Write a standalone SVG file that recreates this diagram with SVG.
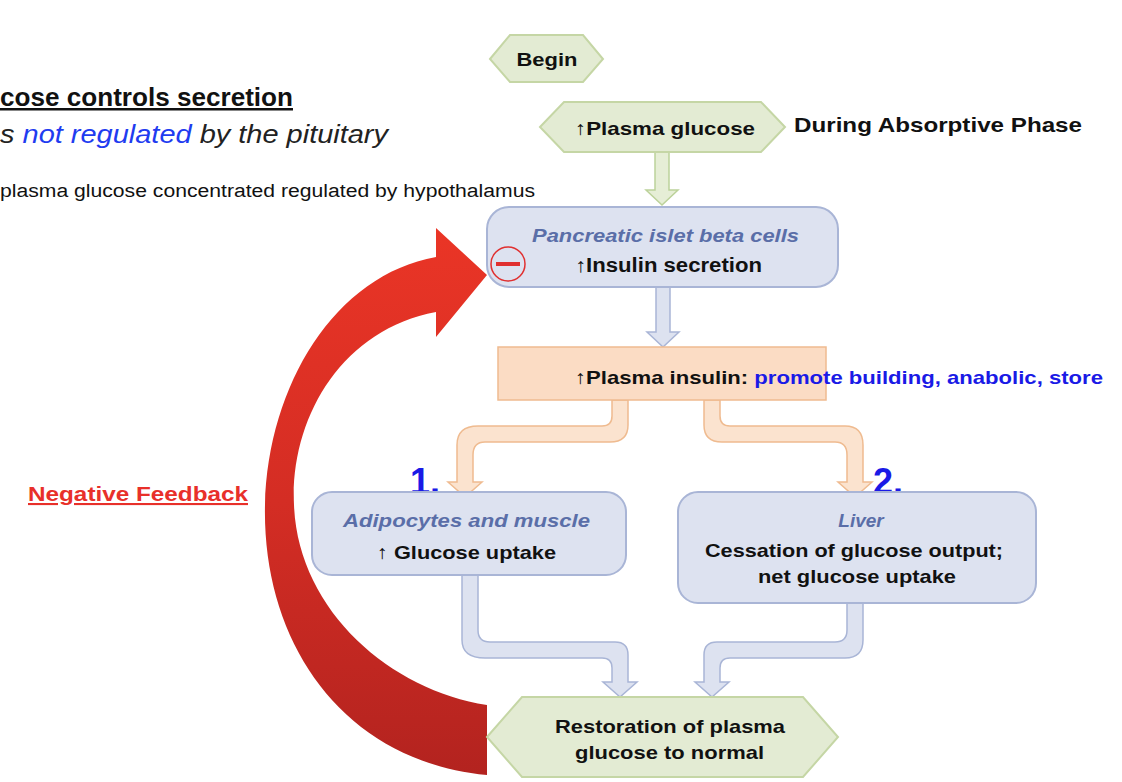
<svg xmlns="http://www.w3.org/2000/svg" width="1122" height="782" viewBox="0 0 1122 782">
<style>
text{font-family:"Liberation Sans",Arial,sans-serif}
.b{font-weight:bold;fill:#111}
.hex{fill:#e3ebd3;stroke:#c5d6a5;stroke-width:2}
.box{fill:#dde2f0;stroke:#a9b5d6;stroke-width:2}
.it{font-style:italic;font-weight:bold;fill:#5a6ea8}
.ga{fill:#e6eed6;stroke:#bcd29a;stroke-width:1.5}
.ba{fill:#dde2f0;stroke:#a9b5d6;stroke-width:1.5}
.oa{fill:#fbe3cf;stroke:#efbb90;stroke-width:1.5}
</style>
<defs>
<linearGradient id="rg" x1="0" y1="0" x2="0" y2="1">
<stop offset="0" stop-color="#ea3526"/><stop offset="0.5" stop-color="#d42d24"/><stop offset="1" stop-color="#b3231f"/>
</linearGradient>
</defs>
<g id="texts">
<text x="0" y="106" font-size="25" class="b" text-decoration="underline" textLength="293" lengthAdjust="spacingAndGlyphs">cose controls secretion</text>
<text x="0" y="143" font-size="26" font-style="italic" fill="#222" textLength="388" lengthAdjust="spacingAndGlyphs">s <tspan fill="#1f3cf0">not regulated</tspan> by the pituitary</text>
<text x="0" y="197" font-size="18" fill="#111" textLength="535" lengthAdjust="spacingAndGlyphs">plasma glucose concentrated regulated by hypothalamus</text>
<text x="794" y="132" font-size="21" class="b" textLength="288" lengthAdjust="spacingAndGlyphs">During Absorptive Phase</text>
<text x="28" y="501" font-size="21" font-weight="bold" fill="#e8302a" text-decoration="underline" textLength="220" lengthAdjust="spacingAndGlyphs">Negative Feedback</text>
<text x="410" y="494" font-size="36" font-weight="bold" fill="#1a1ae6">1.</text>
<text x="873" y="494" font-size="36" font-weight="bold" fill="#1a1ae6">2.</text>
</g>
<g id="connectors">
<path class="ga" d="M655,152 L669,152 L669,190 L678,190 L662,205 L646,190 L655,190 Z"/>
<path class="ba" d="M656,287 L670,287 L670,332 L679,332 L663,347 L647,332 L656,332 Z"/>
<path class="oa" d="M612,400 L628,400 L628,425 Q628,442 610,442 L485,442 Q473,442 473,455 L473,482 L482,482 L465,497 L448,482 L457,482 L457,445 Q457,426 478,426 L602,426 Q612,426 612,416 Z"/>
<path class="oa" d="M704,400 L720,400 L720,416 Q720,426 730,426 L845,426 Q863,426 863,445 L863,482 L872,482 L855,497 L838,482 L847,482 L847,455 Q847,442 835,442 L722,442 Q704,442 704,425 Z"/>
<path class="ba" d="M462,575 L478,575 L478,630 Q478,642 490,642 L615,642 Q628,642 628,655 L628,682 L637,682 L620,697 L603,682 L612,682 L612,668 Q612,658 602,658 L485,658 Q462,658 462,640 Z"/>
<path class="ba" d="M847,603 L863,603 L863,640 Q863,658 845,658 L730,658 Q720,658 720,668 L720,682 L729,682 L712,697 L695,682 L704,682 L704,655 Q704,642 717,642 L835,642 Q847,642 847,630 Z"/>
<path fill="url(#rg)" d="M436,228 L487,275 L436,337 L436,312 C340,330 290,420 294,505 C298,610 390,690 487,705 L487,775 C345,762 262,645 265,505 C268,385 335,275 436,257 Z"/>
</g>
<g id="begin">
<polygon class="hex" points="490,59 510,35 583,35 603,59 583,82 510,82"/>
<text x="547" y="66" font-size="19" class="b" text-anchor="middle" textLength="61" lengthAdjust="spacingAndGlyphs">Begin</text>
</g>
<g id="plasma-glucose">
<polygon class="hex" points="540,127 564,102 761,102 785,127 761,152 564,152"/>
<text x="575" y="135" font-size="19" class="b" textLength="180" lengthAdjust="spacingAndGlyphs">↑Plasma glucose</text>
</g>
<g id="beta-cells">
<rect class="box" x="487" y="207" width="351" height="80" rx="22"/>
<text x="532" y="242" font-size="19" class="it" textLength="267" lengthAdjust="spacingAndGlyphs">Pancreatic islet beta cells</text>
<text x="575" y="272" font-size="20" class="b" textLength="187" lengthAdjust="spacingAndGlyphs">↑Insulin secretion</text>
<circle cx="508" cy="264" r="17" fill="none" stroke="#e03030" stroke-width="1.5"/>
<rect x="496" y="262" width="24" height="4" fill="#e03030"/>
</g>
<g id="plasma-insulin">
<rect x="498" y="347" width="328" height="53" fill="#fbdcc4" stroke="#efbb90" stroke-width="1.5"/>
<text x="575" y="384" font-size="19" class="b" textLength="528" lengthAdjust="spacingAndGlyphs">↑Plasma insulin: <tspan fill="#1a1ae6">promote building, anabolic, store</tspan></text>
</g>
<g id="adipocytes">
<rect class="box" x="312" y="492" width="314" height="83" rx="20"/>
<text x="343" y="527" font-size="19" class="it" textLength="247" lengthAdjust="spacingAndGlyphs">Adipocytes and muscle</text>
<text x="377" y="559" font-size="19" class="b" textLength="179" lengthAdjust="spacingAndGlyphs">↑ Glucose uptake</text>
</g>
<g id="liver">
<rect class="box" x="678" y="492" width="358" height="111" rx="20"/>
<text x="861" y="527" font-size="19" class="it" text-anchor="middle">Liver</text>
<text x="705" y="557" font-size="19" class="b" textLength="298" lengthAdjust="spacingAndGlyphs">Cessation of glucose output;</text>
<text x="758" y="583" font-size="19" class="b" textLength="198" lengthAdjust="spacingAndGlyphs">net glucose uptake</text>
</g>
<g id="restoration">
<polygon class="hex" points="487,737 522,697 803,697 838,737 803,777 522,777"/>
<text x="555" y="733" font-size="19" class="b" textLength="230" lengthAdjust="spacingAndGlyphs">Restoration of plasma</text>
<text x="575" y="759" font-size="19" class="b" textLength="189" lengthAdjust="spacingAndGlyphs">glucose to normal</text>
</g>
</svg>
